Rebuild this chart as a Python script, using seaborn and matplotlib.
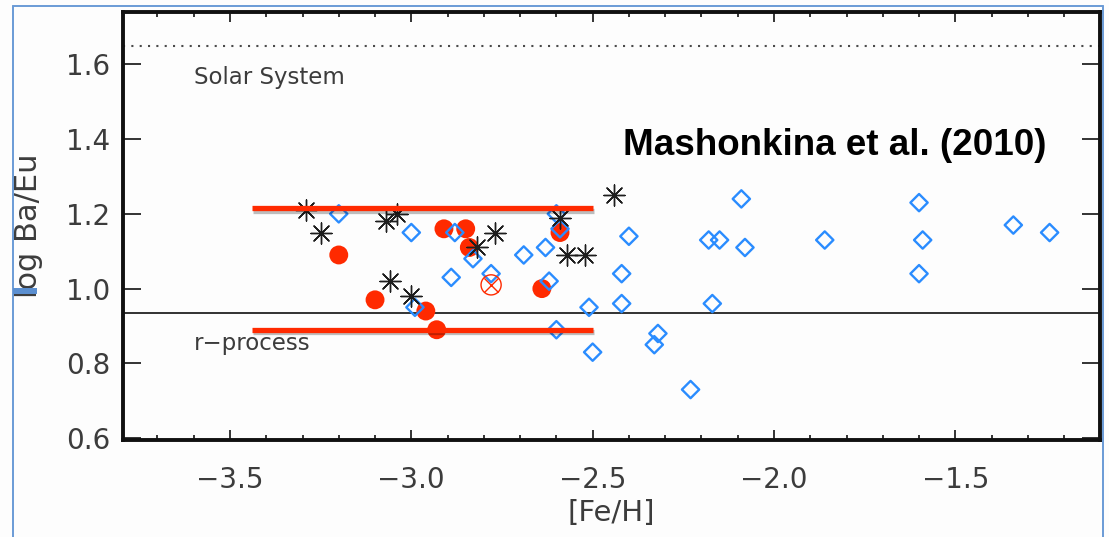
import matplotlib
matplotlib.use("Agg")
import matplotlib.pyplot as plt
import matplotlib.patheffects as pe
from matplotlib.lines import Line2D
from matplotlib.ticker import MultipleLocator
import seaborn as sns

# ---- data: [Fe/H] and log Ba/Eu per star sample ----
star_feh = [-3.29, -3.25, -3.07, -3.04, -3.06, -3.00, -2.82, -2.77, -2.59, -2.57, -2.52, -2.44]
star_baeu = [1.21, 1.15, 1.18, 1.20, 1.02, 0.98, 1.11, 1.15, 1.19, 1.09, 1.09, 1.25]

diamond_feh = [-3.20, -3.00, -2.88, -2.83, -2.89, -2.99, -2.78, -2.69, -2.63, -2.62,
               -2.60, -2.59, -2.60, -2.51, -2.50, -2.42, -2.42, -2.40, -2.32, -2.33,
               -2.23, -2.18, -2.15, -2.17, -2.09, -2.08, -1.86, -1.60, -1.59, -1.60,
               -1.34, -1.24]
diamond_baeu = [1.20, 1.15, 1.15, 1.08, 1.03, 0.95, 1.04, 1.09, 1.11, 1.02,
                1.20, 1.16, 0.89, 0.95, 0.83, 1.04, 0.96, 1.14, 0.88, 0.85,
                0.73, 1.13, 1.13, 0.96, 1.24, 1.11, 1.13, 1.23, 1.13, 1.04,
                1.17, 1.15]

dot_feh = [-3.20, -3.10, -2.96, -2.93, -2.91, -2.85, -2.84, -2.64, -2.59]
dot_baeu = [1.09, 0.97, 0.94, 0.89, 1.16, 1.16, 1.11, 1.00, 1.15]

crossed_feh = [-2.78]
crossed_baeu = [1.01]

# reference ratios and the highlighted band
solar_ratio = 1.65
rprocess_ratio = 0.935
band_feh = [-3.44, -2.50]
band_upper = 1.215
band_lower = 0.89

x_ticks = [-3.5, -3.0, -2.5, -2.0, -1.5]
y_ticks = [0.6, 0.8, 1.0, 1.2, 1.4, 1.6]

sns.set_theme(style="ticks")
plt.rcParams["font.family"] = ["DejaVu Sans"]

BLUE = "#2a8cff"
RED = "#ff2a00"
INK = "#3c3c3c"

fig = plt.figure(figsize=(11.09, 5.37), dpi=100, facecolor="#fdfdfd")
ax = fig.add_axes([0.1109, 0.1806, 0.8810, 0.7971])
ax.set_facecolor("#fdfdfd")

# reference levels
ax.axhline(solar_ratio, color="#4a4a4a", lw=1.5, ls=(0, (1, 3)), zorder=1)
ax.axhline(rprocess_ratio, color="#222222", lw=1.3, zorder=1)

sns.scatterplot(x=dot_feh, y=dot_baeu, ax=ax, marker="o", s=185, color=RED,
                edgecolor="none", zorder=2)
sns.scatterplot(x=diamond_feh, y=diamond_baeu, ax=ax, marker=(4, 0, 0), s=155,
                facecolor="none", edgecolor=BLUE, linewidth=1.7, zorder=3)
sns.scatterplot(x=crossed_feh, y=crossed_baeu, ax=ax, marker="o", s=210,
                facecolor="none", edgecolor=RED, linewidth=1.0, zorder=3)
sns.scatterplot(x=crossed_feh, y=crossed_baeu, ax=ax, marker="x", s=105,
                color=RED, linewidth=1.0, zorder=3)
sns.scatterplot(x=star_feh, y=star_baeu, ax=ax, marker=(8, 2, 0), s=230,
                color="#1e1e1e", edgecolor="#1e1e1e", linewidth=1.0, zorder=4)

# highlighted band limits
shadow = [pe.SimpleLineShadow(offset=(0.8, -1.8), alpha=0.25, shadow_color="black"), pe.Normal()]
for level in (band_upper, band_lower):
    ax.plot(band_feh, [level, level], color=RED, lw=3.8, solid_capstyle="butt",
            zorder=5, path_effects=shadow)

ax.text(-3.60, 1.566, "Solar System", fontsize=16.5, color=INK, ha="left", va="center")
ax.text(-3.60, 0.853, "r\u2212process", fontsize=16.5, color=INK, ha="left", va="center")
ax.text(-2.4165, 1.383, "Mashonkina et al. (2010)", fontsize=26.5, fontweight="bold",
        family="Liberation Sans", color="black", ha="left", va="center")

ax.set_xlim(-3.795, -1.101)
ax.set_ylim(0.595, 1.74)
ax.set_xticks(x_ticks)
ax.set_xticklabels([f"{v:.1f}".replace("-", "\u2212") for v in x_ticks])
ax.set_yticks(y_ticks)
ax.set_yticklabels([f"{v:.1f}" for v in y_ticks])
ax.xaxis.set_minor_locator(MultipleLocator(0.1))

ax.tick_params(axis="both", which="both", direction="in", top=True, right=True,
               color="#111111", width=1.2, labelcolor=INK, labelsize=20)
ax.tick_params(axis="x", which="major", length=7, pad=19)
ax.tick_params(axis="x", which="minor", length=3.5)
ax.tick_params(axis="y", which="major", length=13, pad=9)
ax.tick_params(axis="y", which="minor", left=False, right=False)

for side in ax.spines.values():
    side.set_visible(True)
    side.set_linewidth(2.8)
    side.set_color("#111111")

ax.set_xlabel("[Fe/H]", fontsize=21, color=INK)
ax.set_ylabel("log Ba/Eu", fontsize=22, color=INK)
ax.xaxis.set_label_coords(0.5, -0.138)
ax.yaxis.set_label_coords(-0.082, 0.50)

# thin blue frame around the panel
frame = "#6b9bd6"
fig.add_artist(Line2D([13 / 1109, 13 / 1109], [0, 1 - 6 / 537], color=frame, lw=1.4,
                      transform=fig.transFigure))
fig.add_artist(Line2D([13 / 1109, 1103 / 1109], [1 - 6 / 537, 1 - 6 / 537], color=frame,
                      lw=1.4, transform=fig.transFigure))
fig.add_artist(Line2D([1103 / 1109, 1103 / 1109], [0, 1 - 6 / 537], color=frame, lw=1.4,
                      transform=fig.transFigure))
fig.add_artist(Line2D([13 / 1109, 37 / 1109], [1 - 291 / 537, 1 - 291 / 537], color="#5b8fd0",
                      lw=4.3, solid_capstyle="butt", transform=fig.transFigure))

fig.savefig("out.png", dpi=100, facecolor=fig.get_facecolor())
